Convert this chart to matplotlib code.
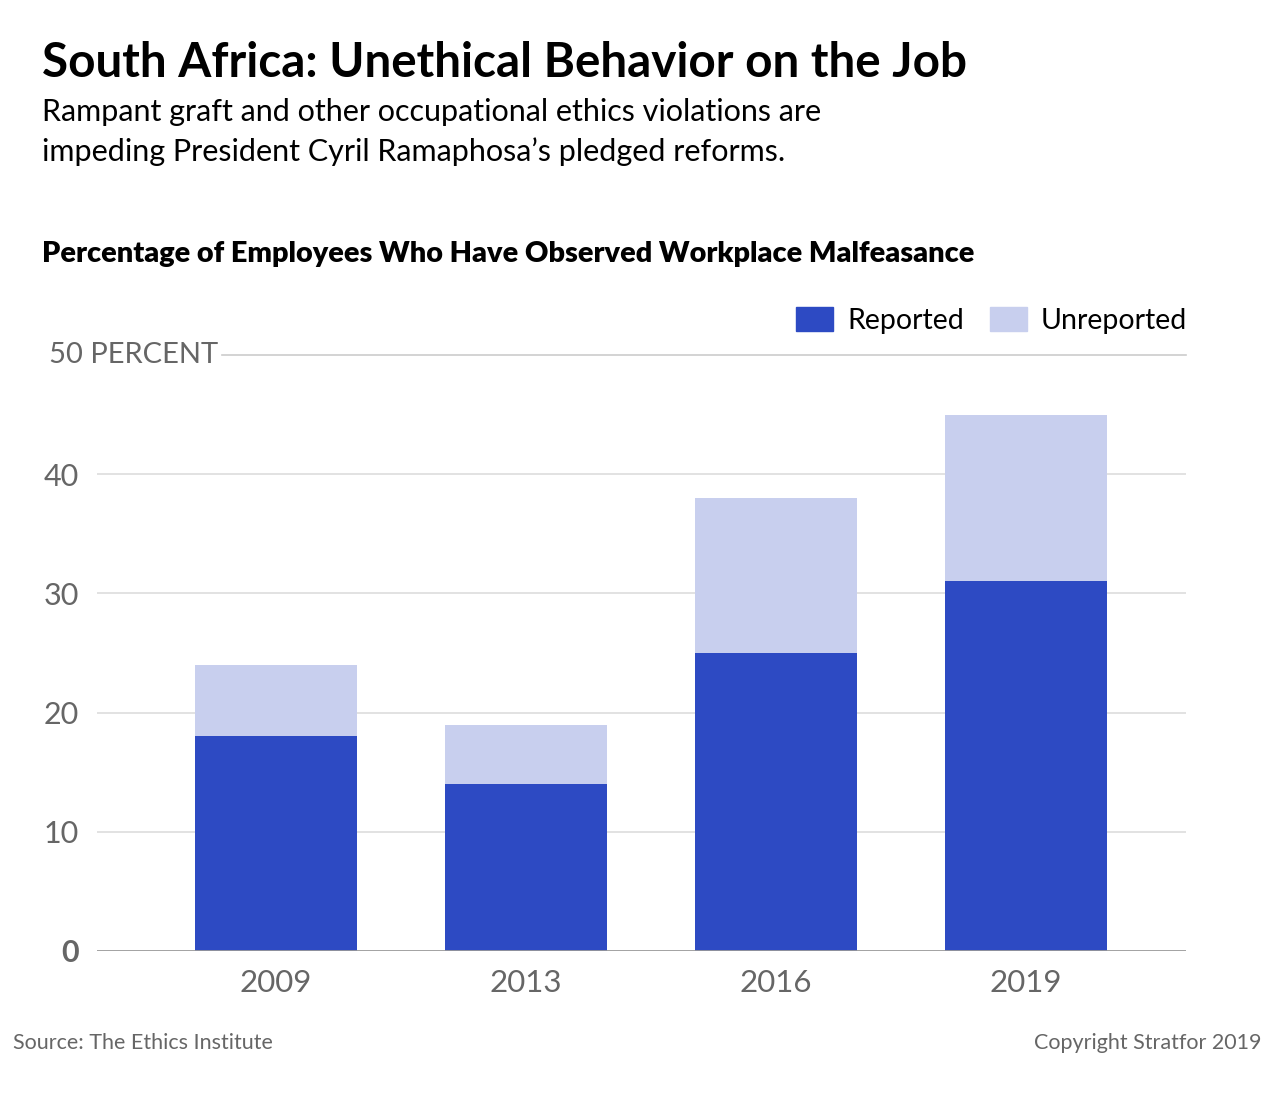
import matplotlib
matplotlib.use("Agg")
import matplotlib.pyplot as plt
import matplotlib.transforms as transforms
from matplotlib.patches import Patch

plt.rcParams['font.family'] = ['Lato', 'DejaVu Sans']

years = ["2009", "2013", "2016", "2019"]
reported = [18, 14, 25, 31]
unreported = [6, 5, 13, 14]
yticks = [0, 10, 20, 30, 40]
ytick_labels = ["0", "10", "20", "30", "40"]

blue = "#2d4ac3"
light = "#c8cfee"
gray = "#666666"

W, H = 1280, 1099
fig = plt.figure(figsize=(W / 100, H / 100), dpi=100)
ax = fig.add_axes([97 / W, 1 - 951 / H, (1186 - 97) / W, (951 - 355) / H])

x = list(range(len(years)))
ax.bar(x, reported, width=0.65, color=blue, zorder=3)
ax.bar(x, unreported, width=0.65, bottom=reported, color=light, zorder=3)

ax.set_xlim(-0.716, 3.64)
ax.set_ylim(0, 50)

# gridlines
for y in yticks[1:]:
    ax.axhline(y, color="#dddddd", lw=1.2, zorder=1)
ax.axhline(50, xmin=(222 - 97) / (1186 - 97), color="#cccccc", lw=1.2, zorder=1, clip_on=False)
ax.axhline(0, color="#999999", lw=2, zorder=4)

for s in ax.spines.values():
    s.set_visible(False)

ax.set_xticks(x)
ax.set_xticklabels(years, fontsize=22.5, color=gray)
ax.tick_params(axis="x", length=0, pad=13)
ax.set_yticks(yticks)
ax.set_yticklabels(ytick_labels, fontsize=22, color=gray)
ax.tick_params(axis="y", length=0, pad=13)
ax.get_yticklabels()[0].set_fontweight("bold")

trans = transforms.blended_transform_factory(fig.transFigure, ax.transData)
ax.text(49 / W, 50, "50 PERCENT", transform=trans, fontsize=21, color=gray,
        ha="left", va="center")

# titles
fig.text(42 / W, 1 - 77 / H, "South Africa: Unethical Behavior on the Job",
         fontsize=34.3, fontweight="bold", color="black", va="baseline")
fig.text(42 / W, 1 - 121 / H, "Rampant graft and other occupational ethics violations are",
         fontsize=22, color="black", va="baseline")
fig.text(42 / W, 1 - 161 / H, "impeding President Cyril Ramaphosa\u2019s pledged reforms.",
         fontsize=22, color="black", va="baseline")
fig.text(42 / W, 1 - 262 / H, "Percentage of Employees Who Have Observed Workplace Malfeasance",
         fontsize=20.8, fontweight="heavy", color="black", va="baseline")

handles = [Patch(color=blue, label="Reported"), Patch(color=light, label="Unreported")]
fig.legend(handles=handles, loc="upper right", bbox_to_anchor=(1187 / W, 1 - 307 / H),
           ncol=2, frameon=False, fontsize=20.5, handlelength=1.3, handleheight=0.9,
           handletextpad=0.5, columnspacing=0.9, borderpad=0, borderaxespad=0)

fig.text(13 / W, 1 - 1049 / H, "Source: The Ethics Institute", fontsize=15.5,
         color=gray, va="baseline")
fig.text(1262 / W, 1 - 1049 / H, "Copyright Stratfor 2019", fontsize=15.5,
         color=gray, va="baseline", ha="right")

fig.savefig("out.png", dpi=100, facecolor="white")
